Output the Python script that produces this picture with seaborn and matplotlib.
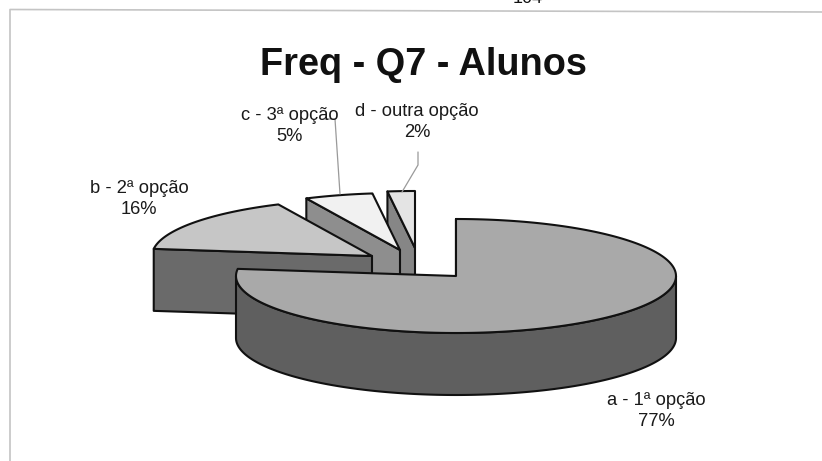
"""
# Freq - Q7 - Alunos : exploded 3D pie, drawn by hand on one axes
"""
import numpy as np
import pandas as pd
import seaborn as sns
import matplotlib.pyplot as plt
from matplotlib.patches import Polygon

title = 'Freq - Q7 - Alunos'
categories = ['a - 1ª opção', 'b - 2ª opção', 'c - 3ª opção', 'd - outra opção']
percent = [77, 16, 5, 2]

W, H = 822, 461
RX, RY = 220, 57
DEPTH = 62
TOP_ANGLE = 90

# apex of each slice on the page
apex = [(456, 276), (372, 256), (400, 250), (415, 248)]
top_colors = ['#a9a9a9', '#c6c6c6', '#f1f1f1', '#e4e4e4']
side_colors = ['#5f5f5f', '#6a6a6a', '#8e8e8e', '#868686']
label_pos = [(656, 411), (139, 199), (290, 126), (417, 122)]

sns.set_theme(style='white')
plt.rcParams['font.family'] = ['Liberation Sans', 'DejaVu Sans']

df = pd.DataFrame({'name': categories, 'pct': percent})
df['end'] = TOP_ANGLE - df.pct.cumsum() * 3.6      # clockwise from the top
df['start'] = df.end + df.pct * 3.6
df[['cx', 'cy']] = apex

fig = plt.figure(figsize=(W / 100, H / 100), dpi=100, facecolor='white')
ax = fig.add_axes([0, 0, 1, 1])
ax.set_xlim(0, W)
ax.set_ylim(H, 0)
ax.axis('off')


def ellipse(cx, cy, a0, a1, dy=0):
    t = np.radians(np.linspace(a0, a1, 200))
    return np.column_stack([cx + RX * np.cos(t), cy - RY * np.sin(t) + dy])


def draw_slice(row, top, side):
    arc = ellipse(row.cx, row.cy, row.start, row.end)
    style = dict(edgecolor='#111111', linewidth=1.5, joinstyle='round')

    # cut face on the start side of the slice
    corner = arc[0]
    centre = np.array([row.cx, row.cy])
    down = np.array([0, DEPTH])
    ax.add_patch(Polygon([corner, centre, centre + down, corner + down],
                         facecolor=side, **style))

    # outer wall, only the big slice turns one to the viewer
    if row.start - row.end > 180:
        wall = ellipse(row.cx, row.cy, -180, 0)
        wall_low = ellipse(row.cx, row.cy, -180, 0, DEPTH)
        ax.add_patch(Polygon(np.vstack([wall, wall_low[::-1]]),
                             facecolor=side, **style))

    ax.add_patch(Polygon(np.vstack([arc, centre]), facecolor=top, **style))


# back to front, so the large slice ends up on top
for i in df.index[::-1]:
    draw_slice(df.loc[i], top_colors[i], side_colors[i])

for i, row in df.iterrows():
    x, y = label_pos[i]
    ax.text(x, y, f'{row["name"]}\n{row.pct}%', ha='center', va='center',
            fontsize=13.2, color='#1a1a1a', linespacing=1.36)

# leader lines
ax.plot([323, 335, 340], [119, 119, 194], color='#9a9a9a', lw=0.9)
ax.plot([418, 418, 402], [152, 165, 192], color='#9a9a9a', lw=0.9)

ax.text(423, 75, title, ha='center', va='baseline', fontsize=27.3,
        fontweight='bold', color='#111111')

# frame of the pasted chart, page number cut off above it
ax.plot([10, 10, W], [H, 9.5, 12], color='#c4c4c4', lw=1.2)
ax.text(528, 3, '104', ha='center', va='baseline', fontsize=13, color='#111111')

fig.savefig('out.png', dpi=100, facecolor='white')
